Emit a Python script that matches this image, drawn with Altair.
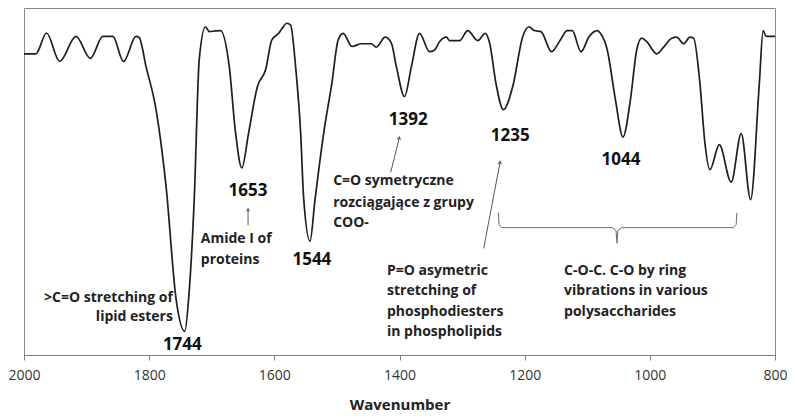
import altair as alt
import pandas as pd

# Spectrum (wavenumber, transmittance %)
wavenumber = [2000, 1981, 1964, 1943, 1917, 1894, 1874, 1858, 1841, 1821, 1816, 1805, 1789, 1773,
              1757, 1743, 1737, 1728, 1720, 1710, 1704, 1694, 1686, 1672, 1662, 1652, 1641, 1627,
              1614, 1604, 1593, 1588, 1580, 1574, 1566, 1558, 1553, 1543, 1535, 1521, 1508, 1498,
              1490, 1476, 1461, 1445, 1437, 1423, 1413, 1405, 1392, 1381, 1368, 1352, 1344, 1336,
              1325, 1320, 1304, 1291, 1275, 1263, 1256, 1246, 1234, 1219, 1203, 1193, 1185, 1174,
              1157, 1143, 1132, 1124, 1110, 1097, 1084, 1079, 1068, 1055, 1043, 1031, 1021, 1013,
              1005, 989, 978, 965, 957, 946, 936, 930, 920, 912, 904, 889, 870, 854, 839, 825,
              819, 814, 800]
transmittance = [86.8, 86.8, 92.8, 84.6, 91.8, 85.5, 91.8, 91.8, 84.6, 91.8, 91.5, 83.1, 70.7, 48.6,
                 16.1, 6.8, 16.1, 44.8, 85.1, 94.6, 93.2, 93.4, 93.5, 83.1, 64.1, 53.9, 64.1, 77.4,
                 82.2, 90.8, 92.7, 94.0, 95.6, 95.1, 83.1, 64.1, 44.8, 32.8, 44.8, 64.1, 78.4, 90.8,
                 92.7, 88.9, 89.7, 89.7, 88.7, 91.6, 89.9, 83.1, 74.5, 83.1, 92.7, 87.4, 87.9, 90.3,
                 91.6, 90.6, 90.6, 93.5, 90.6, 92.7, 89.9, 78.4, 70.7, 77.4, 91.8, 94.6, 93.5, 93.2,
                 87.4, 90.8, 93.5, 93.5, 87.4, 91.8, 93.5, 92.7, 87.9, 73.6, 62.8, 73.6, 87.9, 91.3,
                 90.3, 86.8, 88.7, 91.3, 91.6, 89.7, 91.6, 91.3, 78.4, 61.1, 53.4, 60.6, 49.8, 63.8,
                 44.8, 78.4, 93.5, 91.8, 91.8]

# Peak labels
peak_text = ["1744", "1653", "1544", "1392", "1235", "1044"]
peak_wn = [1747, 1642, 1540, 1386, 1223, 1046]
peak_t = [2.9, 47.4, 27.3, 67.8, 63.0, 56.3]

# Right-aligned annotation
right_text = [">C=O stretching of", "lipid esters"]
right_wn = [1762, 1762]
right_t = [16.4, 10.9]

# Left-aligned annotations
left_text = ["Amide I of", "proteins",
             "C=O symetryczne", "rozciągające z grupy", "COO-",
             "P=O asymetric", "stretching of", "phosphodiesters", "in phospholipids",
             "C-O-C. C-O by ring", "vibrations in various", "polysaccharides"]
left_wn = [1717.5, 1717.5,
           1506, 1506, 1506,
           1420, 1420, 1420, 1420,
           1137, 1137, 1137]
left_t = [33.3, 27.4,
          50.1, 43.9, 37.9,
          24.2, 18.3, 12.4, 6.5,
          24.2, 18.3, 12.4]

# Arrows (tail -> head)
arrow_wn_tail = [1642, 1414, 1265.5]
arrow_t_tail = [37.4, 52.7, 30.7]
arrow_wn_head = [1642, 1400, 1239]
arrow_t_head = [42.2, 62.8, 55.8]
arrow_angle = [0, 14, 11]

# Brace under the polysaccharide region
brace_wn = [1242, 1241, 1237, 1060, 1054, 1052.5, 1051, 1045, 866.5, 862, 861]
brace_t = [41.0, 37.6, 36.7, 36.7, 35.9, 32.2, 35.9, 36.7, 36.7, 37.6, 41.0]

FONT = "Open Sans"

spec = pd.DataFrame({"wn": wavenumber, "t": transmittance, "i": range(len(wavenumber))})
peaks = pd.DataFrame({"text": peak_text, "wn": peak_wn, "t": peak_t})
rights = pd.DataFrame({"text": right_text, "wn": right_wn, "t": right_t})
lefts = pd.DataFrame({"text": left_text, "wn": left_wn, "t": left_t})
arrows = pd.DataFrame({"wn": arrow_wn_tail, "t": arrow_t_tail, "wn2": arrow_wn_head,
                       "t2": arrow_t_head, "angle": arrow_angle})
brace = pd.DataFrame({"wn": brace_wn, "t": brace_t, "i": range(len(brace_wn))})

xscale = alt.Scale(domain=[800, 2000], reverse=True, nice=False, zero=False)
yscale = alt.Scale(domain=[0, 100], nice=False, zero=False)

xenc = alt.X("wn:Q", scale=xscale,
             axis=alt.Axis(title="Wavenumber", values=[2000, 1800, 1600, 1400, 1200, 1000, 800],
                           format="d", grid=False, tickSize=5, tickColor="#7f7f7f",
                           domainColor="#7f7f7f", labelFont=FONT, labelFontSize=14,
                           labelFlush=False, labelOverlap=False,
                           labelColor="#333333", labelPadding=8, titleFont=FONT,
                           titleFontSize=15, titleFontWeight="bold", titleColor="#222222",
                           titlePadding=15))
yenc = alt.Y("t:Q", scale=yscale, axis=None)

line = alt.Chart(spec).mark_line(color="#1e1e1e", strokeWidth=1.7, interpolate="monotone").encode(
    x=xenc, y=yenc, order="i:Q")

brace_line = alt.Chart(brace).mark_line(color="#6b6b6b", strokeWidth=1).encode(
    x=alt.X("wn:Q", scale=xscale), y=alt.Y("t:Q", scale=yscale), order="i:Q")

arrow_lines = alt.Chart(arrows).mark_rule(color="#555555", strokeWidth=1).encode(
    x=alt.X("wn:Q", scale=xscale), y=alt.Y("t:Q", scale=yscale), x2="wn2:Q", y2="t2:Q")

arrow_heads = alt.Chart(arrows).mark_point(
    shape="M -0.5 0.9 L 0 0 L 0.5 0.9", filled=False, color="#555555", strokeWidth=1,
    size=40, opacity=1).encode(
    x=alt.X("wn2:Q", scale=xscale), y=alt.Y("t2:Q", scale=yscale), angle=alt.Angle("angle:Q", scale=None))

peak_labels = alt.Chart(peaks).mark_text(font=FONT, fontSize=17, fontWeight="bold",
                                         color="#111111", align="center", baseline="middle").encode(
    x=alt.X("wn:Q", scale=xscale), y=alt.Y("t:Q", scale=yscale), text="text:N")

right_labels = alt.Chart(rights).mark_text(font=FONT, fontSize=14, fontWeight="bold",
                                           color="#222222", align="right", baseline="middle").encode(
    x=alt.X("wn:Q", scale=xscale), y=alt.Y("t:Q", scale=yscale), text="text:N")

left_labels = alt.Chart(lefts).mark_text(font=FONT, fontSize=14, fontWeight="bold",
                                         color="#222222", align="left", baseline="middle").encode(
    x=alt.X("wn:Q", scale=xscale), y=alt.Y("t:Q", scale=yscale), text="text:N")

chart = alt.layer(line, brace_line, arrow_lines, arrow_heads, peak_labels, right_labels,
                  left_labels).properties(
    width=751, height=347,
    autosize=alt.AutoSizeParams(type="none"),
    padding={"left": 16, "top": 0, "right": 12, "bottom": 57},
    background="white",
).configure_view(stroke="#8a8a8a", strokeWidth=1)

chart.save("out.html", embed_options={"renderer": "svg", "actions": False})
